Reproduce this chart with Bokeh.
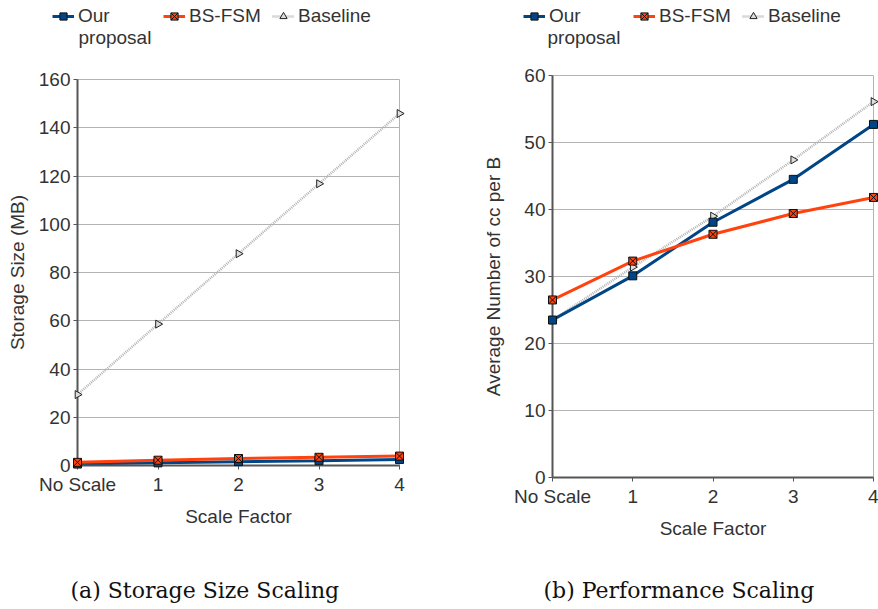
from bokeh.plotting import figure
from bokeh.layouts import row, column
from bokeh.models import (Range1d, FixedTicker, Legend, LegendItem, Label)
from bokeh.embed import file_html
from bokeh.resources import INLINE
import math

# ---- data ----
categories = ["No Scale", "1", "2", "3", "4"]
x_idx = [0, 1, 2, 3, 4]

storage_ours = [0.6, 1.1, 1.6, 2.0, 2.5]
storage_bsfsm = [1.3, 2.2, 2.9, 3.4, 3.9]
storage_base = [29.4, 58.6, 87.8, 116.8, 145.9]

perf_ours = [23.5, 30.1, 38.1, 44.5, 52.7]
perf_bsfsm = [26.5, 32.3, 36.3, 39.4, 41.8]
perf_base = [23.5, 31.4, 39.0, 47.4, 56.1]

# legend labels; "Our proposal" wraps, its second line is drawn beneath
series_names = ["Our", "BS-FSM", "Baseline"]
series_wrap = "proposal"
captions = ["(a)  Storage Size Scaling", "(b)  Performance Scaling"]

BLUE = "#004586"
ORANGE = "#ff420e"
GRAYL = "#b3b3b3"
TXT = "#333333"
AX = "#555555"
FONT = "Liberation Sans"

LEG_H = 60
CAP_H = 40
MAIN_H = 609 - LEG_H - CAP_H


def style_series(p, xs, ours, bsfsm, base):
    r3 = (p.line(xs, base, line_color=GRAYL, line_width=2.5, line_dash="1 1"),
          p.scatter(xs, base, marker="triangle", angle=-math.pi / 2, size=8,
                    fill_color="#dddddd", line_color="#222222", line_width=1,
                    level="overlay"))
    r1 = (p.line(xs, ours, line_color=BLUE, line_width=3),
          p.scatter(xs, ours, marker="square", size=8, fill_color=BLUE,
                    line_color="#111111", line_width=1, level="overlay"))
    r2 = (p.line(xs, bsfsm, line_color=ORANGE, line_width=3),
          p.scatter(xs, bsfsm, marker="square_x", size=8, fill_color=ORANGE,
                    line_color="#111111", line_width=1, level="overlay"))
    return r1, r2, r3


def blank_fig(width, height):
    f = figure(width=width, height=height, output_backend="svg",
               toolbar_location=None, x_axis_type=None, y_axis_type=None,
               min_border_left=0, min_border_right=0,
               min_border_top=0, min_border_bottom=0)
    f.outline_line_color = None
    f.background_fill_color = "white"
    f.border_fill_color = "white"
    return f


def make_legend_fig(width, glyph_xs, wrap_x, ours, bsfsm, base):
    f = blank_fig(width, LEG_H)
    # series are drawn out of view; only their legend swatches show
    f.x_range = Range1d(-20, -19)
    f.y_range = Range1d(-20, -19)
    rends = style_series(f, x_idx, ours, bsfsm, base)
    for name, rr, gx in zip(series_names, rends, glyph_xs):
        lg = Legend(items=[LegendItem(label=name, renderers=list(rr))],
                    orientation="horizontal", location=(gx, 33))
        lg.label_text_font = FONT
        lg.label_text_font_size = "19px"
        lg.label_text_color = TXT
        lg.glyph_width = 22
        lg.glyph_height = 18
        lg.label_standoff = 4
        lg.padding = 0
        lg.margin = 0
        lg.border_line_alpha = 0
        lg.background_fill_alpha = 0
        f.add_layout(lg, "center")
    f.add_layout(Label(x=wrap_x, y=LEG_H - 37, x_units="screen",
                       y_units="screen", text=series_wrap, text_font=FONT,
                       text_font_size="19px", text_color=TXT,
                       text_baseline="middle", text_align="left"))
    return f


def make_caption_fig(width, text, cx):
    f = blank_fig(width, CAP_H)
    f.x_range = Range1d(0, 1)
    f.y_range = Range1d(0, 1)
    f.add_layout(Label(x=cx, y=19, x_units="screen", y_units="screen",
                       text=text, text_font="DejaVu Serif",
                       text_font_size="22px", text_color="#111111",
                       text_baseline="middle", text_align="left"))
    return f


def make_panel(width, border_left, border_right, border_top, border_bottom,
               ymax, ystep, ylabel, ours, bsfsm, base, ylabel_standoff):
    p = figure(width=width, height=MAIN_H, output_backend="svg",
               toolbar_location=None,
               x_range=Range1d(0, 4), y_range=Range1d(0, ymax),
               min_border_left=border_left, min_border_right=border_right,
               min_border_top=border_top, min_border_bottom=border_bottom)
    p.background_fill_color = "white"
    p.border_fill_color = "white"
    p.outline_line_color = GRAYL
    p.outline_line_width = 1

    p.xgrid.visible = False
    p.ygrid.grid_line_color = GRAYL
    p.ygrid.grid_line_width = 1

    p.xaxis.ticker = FixedTicker(ticks=x_idx)
    p.xaxis.major_label_overrides = {i: c for i, c in zip(x_idx, categories)}
    p.yaxis.ticker = FixedTicker(ticks=list(range(0, ymax + 1, ystep)))
    for ax in (p.xaxis, p.yaxis):
        ax.axis_line_color = AX
        ax.axis_line_width = 2
        ax.major_tick_line_color = AX
        ax.major_tick_line_width = 1
        ax.major_tick_out = 4
        ax.major_tick_in = 0
        ax.minor_tick_line_color = None
        ax.major_label_text_font = FONT
        ax.major_label_text_font_size = "19px"
        ax.major_label_text_color = TXT
        ax.axis_label_text_font = FONT
        ax.axis_label_text_font_size = "19px"
        ax.axis_label_text_font_style = "normal"
        ax.axis_label_text_color = TXT
    p.xaxis.axis_label = "Scale Factor"
    p.yaxis.axis_label = ylabel
    p.xaxis.major_label_standoff = 4
    p.yaxis.major_label_standoff = 3
    p.xaxis.axis_label_standoff = 8
    p.yaxis.axis_label_standoff = ylabel_standoff
    style_series(p, x_idx, ours, bsfsm, base)
    return p


W1, W2 = 436, 442
# left panel frame: x 77..399, y 79..465 ; right: x 552..873, y 75..477
t1 = 79 - LEG_H
p1 = make_panel(W1, 77, W1 - 77 - 322, t1, MAIN_H - t1 - 386, 160, 20,
                "Storage Size (MB)", storage_ours, storage_bsfsm, storage_base, 8)
t2 = 75 - LEG_H
p2 = make_panel(W2, 552 - W1, W2 - (552 - W1) - 321, t2, MAIN_H - t2 - 402,
                60, 10, "Average Number of cc per B",
                perf_ours, perf_bsfsm, perf_base, 17)

leg1 = make_legend_fig(W1, [52, 163, 272], 78,
                       storage_ours, storage_bsfsm, storage_base)
leg2 = make_legend_fig(W2, [523 - W1, 633 - W1, 742 - W1], 547 - W1,
                       perf_ours, perf_bsfsm, perf_base)
cap1 = make_caption_fig(W1, captions[0], 70)
cap2 = make_caption_fig(W2, captions[1], 543 - W1)

layout = row(column(row(leg1), p1, row(cap1), spacing=0),
             column(row(leg2), p2, row(cap2), spacing=0), spacing=0)
open("out.html", "w").write(file_html(layout, INLINE))
